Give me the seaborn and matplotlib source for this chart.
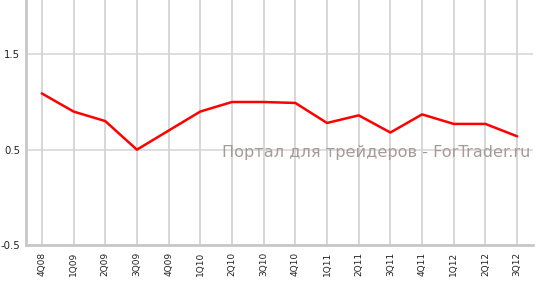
import matplotlib
matplotlib.use("Agg")
import matplotlib.pyplot as plt
import seaborn as sns
import pandas as pd

quarters = ["4Q08", "1Q09", "2Q09", "3Q09", "4Q09", "1Q10", "2Q10", "3Q10",
            "4Q10", "1Q11", "2Q11", "3Q11", "4Q11", "1Q12", "2Q12", "3Q12"]
values = [1.09, 0.90, 0.80, 0.50, 0.70, 0.90, 1.00, 1.00,
          0.99, 0.78, 0.86, 0.68, 0.87, 0.77, 0.77, 0.64]
yticks = [-0.5, 0.5, 1.5]
watermark = "Портал для трейдеров - ForTrader.ru"

sns.set_style("white")
plt.rcParams['font.family'] = ['DejaVu Sans']

df = pd.DataFrame({"q": quarters, "v": values})
df["i"] = range(len(df))

fig = plt.figure(figsize=(5.38, 2.82), dpi=100)
ax = fig.add_axes([26 / 538, 37 / 282, (533 - 26) / 538, 245 / 282])

grid_c = "#d4d4d4"
for i in range(len(quarters)):
    ax.axvline(i, color=grid_c, lw=1.3, zorder=0)
for y in yticks:
    ax.axhline(y, color=grid_c, lw=1.1, zorder=0)

sns.lineplot(data=df, x="i", y="v", color="#ff0000", lw=1.8, ax=ax, zorder=3)

ax.set_xlim(-0.5, len(quarters) - 0.5)
ax.set_ylim(-0.5, 2.07)
ax.set_xticks(range(len(quarters)))
ax.set_xticklabels(quarters, rotation=90, fontsize=6.5, color="#222222")
ax.set_yticks(yticks)
ax.set_yticklabels([str(t) for t in yticks], fontsize=7.3, color="#222222")
ax.set_xlabel("")
ax.set_ylabel("")
ax.tick_params(axis="x", length=3, width=1, color="#c8c8c8", pad=2)
ax.tick_params(axis="y", length=3, width=1, color="#c8c8c8", pad=1)

for s in ["top", "right"]:
    ax.spines[s].set_visible(False)
for s in ["left", "bottom"]:
    ax.spines[s].set_color("#c8c8c8")
    ax.spines[s].set_linewidth(2)

ax.text(0.995, (0.5 - (-0.5)) / (2.07 + 0.5) - 0.01, watermark, transform=ax.transAxes,
        ha="right", va="center", fontsize=11.6, color="#a89a9a", zorder=2)

fig.savefig("out.png", dpi=100)
